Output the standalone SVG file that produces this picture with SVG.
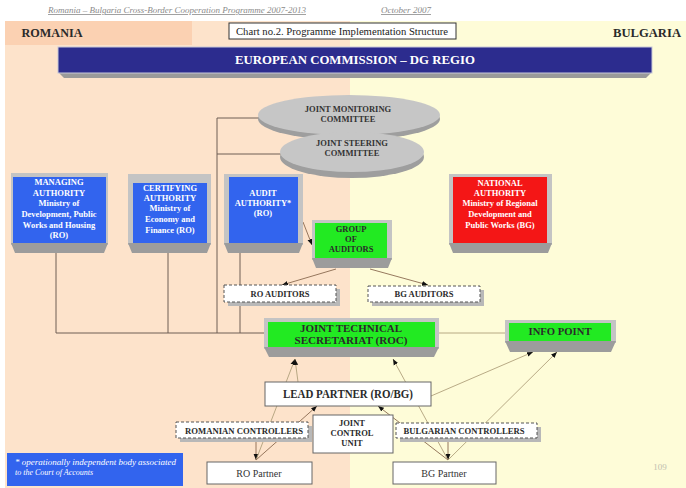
<svg xmlns="http://www.w3.org/2000/svg" width="686" height="488" viewBox="0 0 686 488">
<defs>
<marker id="ah" viewBox="0 0 10 10" refX="10" refY="5" markerWidth="6" markerHeight="6" orient="auto" markerUnits="userSpaceOnUse">
<path d="M0,1 L10,5 L0,9 z" fill="#111"/>
</marker>
<style>
.t{font-family:"Liberation Serif","Times New Roman",serif;font-weight:bold;text-anchor:middle}
.w{fill:#fff;font-size:8.5px}
.d{fill:#2a2a2a}
.frame{fill:#c4c4c4}
.bevel{fill:#9c9c9c}
.blue{fill:#3264ee}
.red{fill:#f41616}
.green{fill:#22ea22}
.dash{fill:#fff;stroke:#555;stroke-width:1;stroke-dasharray:3,2}
.shadow{fill:#b8b8b8}
.plain{fill:#fff;stroke:#666;stroke-width:1}
.ln{stroke:#6e5e55;stroke-width:1;fill:none}
.ar{stroke:#8a6a50;stroke-width:0.9;fill:none}
.ar2{stroke:#b0a07c;stroke-width:0.9;fill:none}
</style>
</defs>

<!-- background -->
<rect x="0" y="0" width="686" height="488" fill="#ffffff"/>
<rect x="5" y="21" width="345" height="467" fill="#fde3cb"/>
<rect x="350" y="21" width="336" height="467" fill="#fefcd8"/>
<rect x="5" y="21" width="187" height="24" fill="#fbd1b2"/>

<g id="header">
<text x="48" y="13" font-family="Liberation Serif, serif" font-style="italic" font-size="8" fill="#8a8a8a" text-decoration="underline" textLength="258" lengthAdjust="spacingAndGlyphs">Romania – Bulgaria Cross-Border Cooperation Programme 2007-2013</text>
<text x="381" y="13" font-family="Liberation Serif, serif" font-style="italic" font-size="8" fill="#8a8a8a" text-decoration="underline" textLength="50" lengthAdjust="spacingAndGlyphs">October 2007</text>
</g>

<g id="romania-label"><text class="t d" x="52" y="37" font-size="12" textLength="61" lengthAdjust="spacingAndGlyphs">ROMANIA</text></g>
<g id="bulgaria-label"><text class="t d" x="647" y="37" font-size="12" textLength="68" lengthAdjust="spacingAndGlyphs">BULGARIA</text></g>

<g id="chart-title">
<rect x="229" y="23" width="227" height="16" fill="#fff" stroke="#333" stroke-width="1"/>
<text x="342" y="34.5" font-family="Liberation Serif, serif" font-size="9.5" fill="#222" text-anchor="middle" textLength="212" lengthAdjust="spacingAndGlyphs">Chart no.2. Programme Implementation Structure</text>
</g>

<g id="european-commission">
<polygon points="58,72 652,72 646,78 64,78" fill="#9a9a9a"/>
<rect x="58" y="47" width="594" height="26" fill="#2c2c8e" stroke="#c8c8d8" stroke-width="1"/>
<text class="t" x="355" y="64" font-size="12.5" fill="#fff" textLength="240" lengthAdjust="spacingAndGlyphs">EUROPEAN COMMISSION – DG REGIO</text>
</g>

<!-- connectors -->
<g id="connectors">
<line class="ln" x1="217" y1="118" x2="217" y2="333"/>
<line class="ln" x1="217" y1="118" x2="262" y2="118"/>
<line class="ln" x1="217" y1="154" x2="282" y2="154"/>
<line class="ln" x1="56" y1="253" x2="56" y2="333"/>
<line class="ln" x1="168" y1="253" x2="168" y2="333"/>
<line class="ln" x1="240" y1="253" x2="240" y2="333"/>
<line class="ln" x1="56" y1="333" x2="264" y2="333"/>
<line class="ar2" x1="439" y1="333" x2="505" y2="333"/>
<line class="ar" x1="303" y1="222" x2="312" y2="245" marker-end="url(#ah)"/>
<line class="ar" x1="336" y1="269" x2="282" y2="285" marker-end="url(#ah)"/>
<line class="ar" x1="370" y1="269" x2="428" y2="285" marker-end="url(#ah)"/>
<line class="ar" x1="256" y1="438" x2="256" y2="460" stroke="#333" marker-end="url(#ah)"/>
<line class="ar" x1="448" y1="438" x2="448" y2="460" stroke="#333" marker-end="url(#ah)"/>
<line class="ar2" x1="256" y1="460" x2="295" y2="359" marker-end="url(#ah)"/>
<line class="ar2" x1="298" y1="382" x2="295" y2="359" marker-end="url(#ah)"/>
<line class="ar" x1="256" y1="460" x2="317" y2="406" marker-end="url(#ah)"/>
<line class="ar2" x1="448" y1="460" x2="393" y2="359" marker-end="url(#ah)"/>
<line class="ar" x1="448" y1="460" x2="378" y2="406" marker-end="url(#ah)"/>
<line class="ar2" x1="448" y1="460" x2="557" y2="352" marker-end="url(#ah)"/>
<line class="ar2" x1="431" y1="396" x2="533" y2="352" marker-end="url(#ah)"/>
</g>

<g id="joint-monitoring-committee">
<ellipse cx="349" cy="119" rx="91" ry="21" fill="#9e9e9e"/>
<ellipse cx="349" cy="115" rx="91" ry="20" fill="#c6c6c6"/>
<text class="t" x="348" y="112" font-size="8.5" fill="#333">JOINT MONITORING</text>
<text class="t" x="348" y="122" font-size="8.5" fill="#333">COMMITTEE</text>
</g>

<g id="joint-steering-committee">
<ellipse cx="352" cy="157" rx="72" ry="21" fill="#9e9e9e"/>
<ellipse cx="352" cy="152" rx="72" ry="20" fill="#c6c6c6"/>
<text class="t" x="352" y="146" font-size="8.5" fill="#333">JOINT STEERING</text>
<text class="t" x="352" y="156" font-size="8.5" fill="#333">COMMITTEE</text>
</g>

<g id="managing-authority">
<rect class="frame" x="11" y="173" width="97" height="72"/>
<polygon class="bevel" points="11,243 108,243 104,253 15,253"/>
<rect class="blue" x="13" y="177" width="93" height="66"/>
<text class="t w" x="59" y="185">MANAGING</text>
<text class="t w" x="59" y="196">AUTHORITY</text>
<text class="t w" x="59" y="206">Ministry of</text>
<text class="t w" x="59" y="217">Development, Public</text>
<text class="t w" x="59" y="228">Works and Housing</text>
<text class="t w" x="59" y="238">(RO)</text>
</g>

<g id="certifying-authority">
<rect class="frame" x="128" y="174" width="83" height="71"/>
<polygon class="bevel" points="128,243 211,243 207,253 132,253"/>
<rect class="blue" x="133" y="183" width="74" height="60"/>
<text class="t w" x="170" y="191">CERTIFYING</text>
<text class="t w" x="170" y="201">AUTHORITY</text>
<text class="t w" x="170" y="211">Ministry of</text>
<text class="t w" x="170" y="222">Economy and</text>
<text class="t w" x="170" y="233">Finance (RO)</text>
</g>

<g id="audit-authority">
<rect class="frame" x="224" y="174" width="79" height="71"/>
<polygon class="bevel" points="224,243 303,243 299,253 228,253"/>
<rect class="blue" x="229" y="177" width="69" height="66"/>
<text class="t w" x="263" y="196">AUDIT</text>
<text class="t w" x="263" y="206">AUTHORITY*</text>
<text class="t w" x="263" y="216">(RO)</text>
</g>

<g id="national-authority">
<rect class="frame" x="449" y="174" width="103" height="71"/>
<polygon class="bevel" points="449,243 552,243 548,253 453,253"/>
<rect class="red" x="453" y="177" width="94" height="66"/>
<text class="t w" x="500" y="186">NATIONAL</text>
<text class="t w" x="500" y="196">AUTHORITY</text>
<text class="t w" x="500" y="206">Ministry of Regional</text>
<text class="t w" x="500" y="217">Development and</text>
<text class="t w" x="500" y="228">Public Works (BG)</text>
</g>

<g id="group-of-auditors">
<rect class="frame" x="312" y="220" width="80" height="40"/>
<polygon class="bevel" points="312,258 392,258 388,268 316,268"/>
<rect class="green" x="315" y="223" width="72" height="35"/>
<text class="t d" x="351" y="232" font-size="8.5">GROUP</text>
<text class="t d" x="351" y="242" font-size="8.5">OF</text>
<text class="t d" x="351" y="252" font-size="8.5">AUDITORS</text>
</g>

<g id="ro-auditors">
<rect class="shadow" x="228" y="289" width="112" height="17"/>
<rect class="dash" x="224" y="285" width="112" height="17"/>
<text class="t d" x="280" y="297" font-size="8.5" textLength="59" lengthAdjust="spacingAndGlyphs">RO AUDITORS</text>
</g>

<g id="bg-auditors">
<rect class="shadow" x="372" y="290" width="112" height="16"/>
<rect class="dash" x="368" y="286" width="112" height="16"/>
<text class="t d" x="424" y="297" font-size="8.5" textLength="59" lengthAdjust="spacingAndGlyphs">BG AUDITORS</text>
</g>

<g id="joint-technical-secretariat">
<rect class="frame" x="264" y="318" width="175" height="31"/>
<polygon class="bevel" points="264,347 439,347 434,357 269,357"/>
<rect class="green" x="268" y="322" width="167" height="25"/>
<text class="t d" x="351" y="332" font-size="11" textLength="102" lengthAdjust="spacingAndGlyphs">JOINT TECHNICAL</text>
<text class="t d" x="351" y="344" font-size="11" textLength="113" lengthAdjust="spacingAndGlyphs">SECRETARIAT (ROC)</text>
</g>

<g id="info-point">
<rect class="frame" x="505" y="320" width="111" height="23"/>
<polygon class="bevel" points="505,341 616,341 611,352 510,352"/>
<rect class="green" x="509" y="323" width="102" height="18"/>
<text class="t d" x="560" y="335" font-size="10.5" textLength="63" lengthAdjust="spacingAndGlyphs">INFO POINT</text>
</g>

<g id="lead-partner">
<rect class="plain" x="265" y="382" width="166" height="24"/>
<text class="t d" x="348" y="398" font-size="12" textLength="130" lengthAdjust="spacingAndGlyphs">LEAD PARTNER (RO/BG)</text>
</g>

<g id="romanian-controllers">
<rect class="shadow" x="180" y="426" width="132" height="16"/>
<rect class="dash" x="176" y="422" width="132" height="16"/>
<text class="t d" x="244" y="433.5" font-size="8.5" textLength="118" lengthAdjust="spacingAndGlyphs">ROMANIAN CONTROLLERS</text>
</g>

<g id="bulgarian-controllers">
<rect class="shadow" x="400" y="427" width="141" height="15"/>
<rect class="dash" x="396" y="423" width="141" height="15"/>
<text class="t d" x="464" y="433.5" font-size="8.5" textLength="121" lengthAdjust="spacingAndGlyphs">BULGARIAN CONTROLLERS</text>
</g>

<g id="joint-control-unit">
<rect class="plain" x="313" y="415" width="80" height="38"/>
<text class="t d" x="352" y="426" font-size="8.5">JOINT</text>
<text class="t d" x="352" y="436" font-size="8.5">CONTROL</text>
<text class="t d" x="352" y="446" font-size="8.5">UNIT</text>
</g>

<g id="ro-partner">
<rect class="plain" x="207" y="462" width="105" height="22"/>
<text x="259" y="476.5" font-family="Liberation Serif, serif" font-size="10" fill="#333" text-anchor="middle">RO Partner</text>
</g>

<g id="bg-partner">
<rect class="plain" x="393" y="462" width="103" height="22"/>
<text x="444" y="476.5" font-family="Liberation Serif, serif" font-size="10" fill="#333" text-anchor="middle">BG Partner</text>
</g>

<g id="footnote">
<rect x="7" y="453" width="176" height="33" fill="#3264ee"/>
<text x="15" y="465" font-family="Liberation Serif, serif" font-style="italic" font-size="8" fill="#fff" textLength="161" lengthAdjust="spacingAndGlyphs">* operationally independent body associated</text>
<text x="15" y="475" font-family="Liberation Serif, serif" font-style="italic" font-size="8" fill="#fff">to the Court of Accounts</text>
</g>

<g id="page-number">
<text x="660" y="470" font-family="Liberation Serif, serif" font-size="9" fill="#c0c0b0" text-anchor="middle">109</text>
</g>
</svg>
